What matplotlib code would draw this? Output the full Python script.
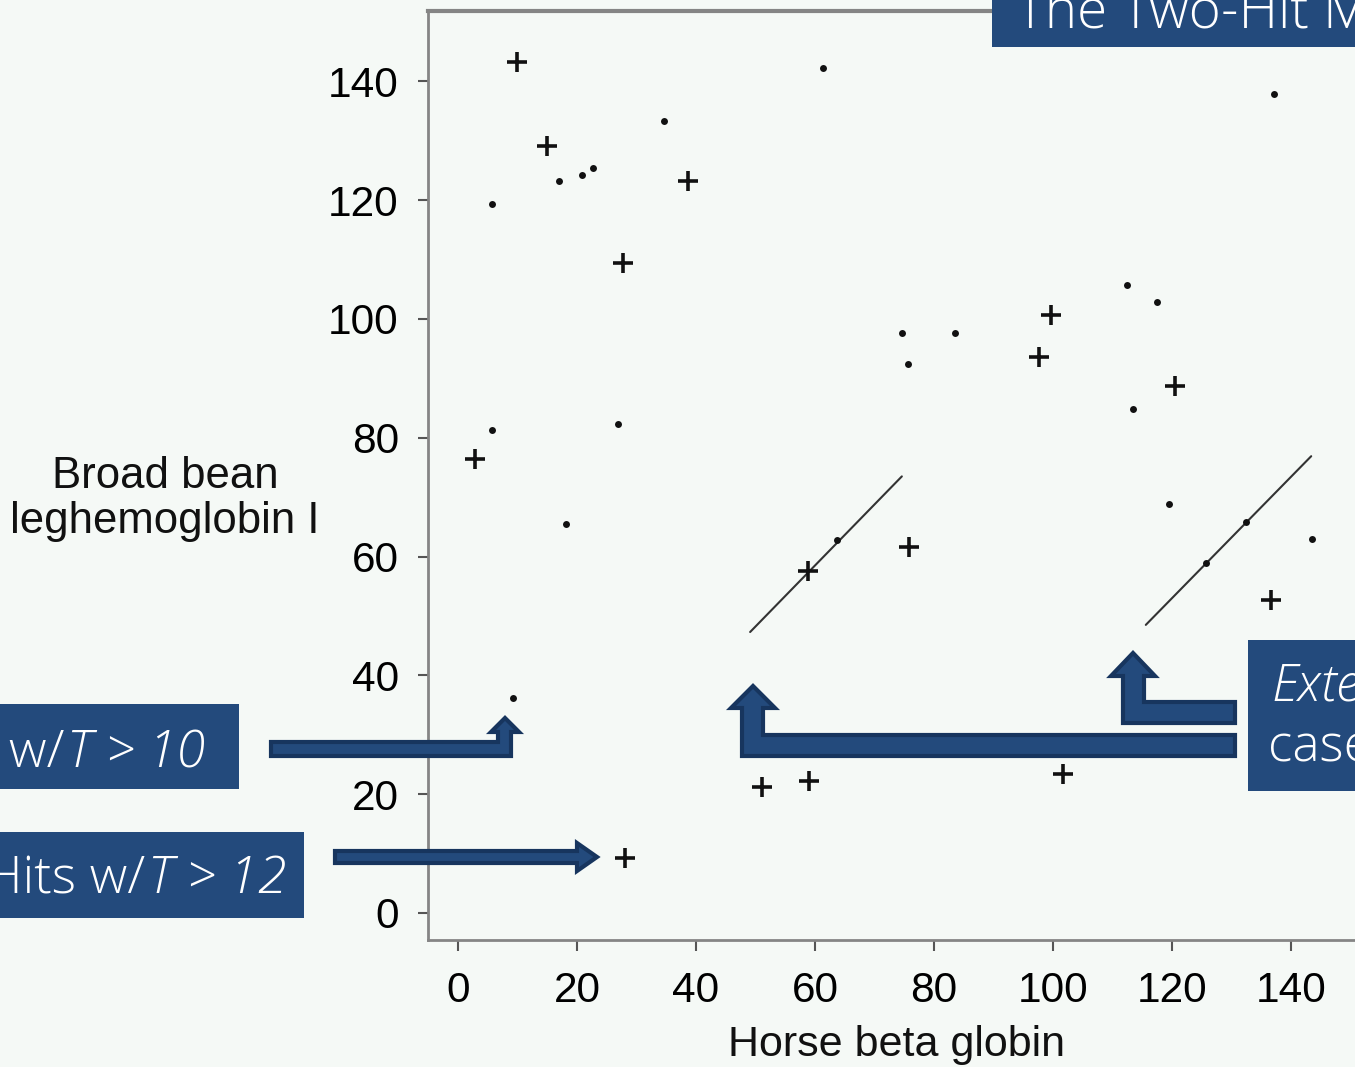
import matplotlib
matplotlib.use("Agg")
import matplotlib.pyplot as plt
from matplotlib.patches import Polygon, Rectangle

# ---------------- data ----------------
plus_x = [9.9, 15.0, 38.7, 27.7, 2.9, 58.8, 75.8, 99.7, 97.6, 120.5, 136.6, 51.1, 59.0, 101.7, 28.1]
plus_y = [143.2, 129.2, 123.3, 109.4, 76.4, 57.5, 61.6, 100.6, 93.6, 88.7, 52.7, 21.2, 22.2, 23.4, 9.3]

dot_x = [61.3, 137.1, 34.6, 17.0, 20.8, 22.7, 5.7, 74.6, 83.5, 75.6, 112.4, 117.5, 113.4,
         5.7, 26.9, 18.2, 119.5, 63.7, 143.5, 132.4, 125.7, 9.2]
dot_y = [142.2, 137.8, 133.3, 123.3, 124.3, 125.4, 119.3, 97.6, 97.6, 92.5, 105.7, 102.8, 84.8,
         81.3, 82.3, 65.5, 68.8, 62.8, 62.9, 65.8, 58.9, 36.2]

diag1_x = [49.1, 74.6]
diag1_y = [47.3, 73.5]
diag2_x = [115.6, 143.4]
diag2_y = [48.5, 76.9]

ticks = [0, 20, 40, 60, 80, 100, 120, 140]
tick_labels = [str(t) for t in ticks]

x_label = "Horse beta globin"
y_label_lines = ["Broad bean", "leghemoglobin I"]
title_text = "The Two-Hit Method"
box1_plain, box1_ital = "Two hits w/", "T > 10"
box2_plain, box2_ital = "Hits w/", "T > 12"
box3_line1, box3_line2 = "Extend", "cases"

# ---------------- figure ----------------
W, H = 1355, 1067
BG = "#F5F9F6"
NAVY = "#234A7C"
ARROW_EDGE = "#17355E"
AX_FONT = "Liberation Sans"
SLIDE_FONT = ["Open Sans", "Lato", "DejaVu Sans"]

fig = plt.figure(figsize=(W / 100, H / 100), dpi=100, facecolor=BG)


def fx(x):
    return x / W


def fy(y):
    return 1 - y / H


ax = fig.add_axes([fx(428), fy(940), fx(1355) - fx(428), fy(11) - fy(940)])
ax.set_facecolor(BG)
ax.set_xlim(-5.04, 150.76)
ax.set_ylim(-4.55, 151.85)

ax.plot(diag1_x, diag1_y, color="#333333", lw=1.5, solid_capstyle="round")
ax.plot(diag2_x, diag2_y, color="#333333", lw=1.5, solid_capstyle="round")
ax.plot(plus_x, plus_y, ls="none", marker="+", ms=15, mew=2.6, color="#111111")
ax.plot(dot_x, dot_y, ls="none", marker="o", ms=5.0, mew=0, color="#111111")

for side in ["left", "bottom", "top"]:
    ax.spines[side].set_color("#858585")
ax.spines["left"].set_linewidth(2.0)
ax.spines["bottom"].set_linewidth(2.0)
ax.spines["top"].set_linewidth(3.0)
ax.spines["right"].set_visible(False)

ax.set_xticks(ticks)
ax.set_yticks(ticks)
ax.set_xticklabels(tick_labels, fontfamily=AX_FONT, fontsize=30.5)
ax.set_yticklabels(tick_labels, fontfamily=AX_FONT, fontsize=30.5)
ax.tick_params(axis="y", direction="out", length=7, width=1.5, color="#555555", pad=14)
ax.tick_params(axis="x", direction="out", length=8, width=1.5, color="#555555", pad=14)

fig.text(fx(896), fy(1056), x_label, ha="center", va="baseline",
         fontfamily=AX_FONT, fontsize=31, color="#111111")
fig.text(fx(165), fy(488), y_label_lines[0], ha="center", va="baseline",
         fontfamily=AX_FONT, fontsize=31.5, color="#111111")
fig.text(fx(165), fy(533), y_label_lines[1], ha="center", va="baseline",
         fontfamily=AX_FONT, fontsize=31.5, color="#111111")

# ---------------- slide overlays ----------------
def rect(x0, y0, x1, y1):
    fig.patches.append(Rectangle((fx(x0), fy(y1)), fx(x1) - fx(x0), fy(y0) - fy(y1),
                                 transform=fig.transFigure, facecolor=NAVY,
                                 edgecolor="none", zorder=5))


def arrow(pts):
    fig.patches.append(Polygon([(fx(x), fy(y)) for x, y in pts], closed=True,
                               transform=fig.transFigure, facecolor=NAVY,
                               edgecolor=ARROW_EDGE, lw=3, joinstyle="miter", zorder=6))


rect(992, -5, 1360, 47)
rect(-5, 704, 239, 789)
rect(-5, 832, 304, 918)
rect(1248, 640, 1360, 791)

arrow([(271, 756), (511, 756), (511, 732), (519, 732), (505, 718), (491, 732),
       (498, 732), (498, 742), (271, 742)])
arrow([(335, 851), (577, 851), (577, 843), (597, 857), (577, 871), (577, 863), (335, 863)])
arrow([(1235, 735), (763, 735), (763, 708), (775, 708), (753, 686), (731, 708),
       (742, 708), (742, 756), (1235, 756)])
arrow([(1235, 702), (1144, 702), (1144, 676), (1155, 676), (1133, 653), (1111, 676),
       (1123, 676), (1123, 723), (1235, 723)])

txt_kw = dict(color="white", fontfamily=SLIDE_FONT, fontweight="light", zorder=7)

fig.text(fx(1016), fy(27), title_text, ha="left", va="baseline", fontsize=39.5, **txt_kw)

renderer = fig.canvas.get_renderer()


def mixed(plain, ital, x_end, base, size):
    t = fig.text(fx(x_end), fy(base), ital, ha="right", va="baseline",
                 fontsize=size, style="italic", **txt_kw)
    bb = t.get_window_extent(renderer)
    fig.text(bb.x0 / W - 0.002, fy(base), plain, ha="right", va="baseline",
             fontsize=size, **txt_kw)


mixed(box1_plain, box1_ital, 205, 768, 37.5)
mixed(box2_plain, box2_ital, 286, 893, 37.5)

fig.text(fx(1271), fy(702), box3_line1, ha="left", va="baseline", fontsize=37,
         style="italic", **txt_kw)
fig.text(fx(1268), fy(762), box3_line2, ha="left", va="baseline", fontsize=37, **txt_kw)

fig.savefig("out.png", dpi=100, facecolor=BG)
